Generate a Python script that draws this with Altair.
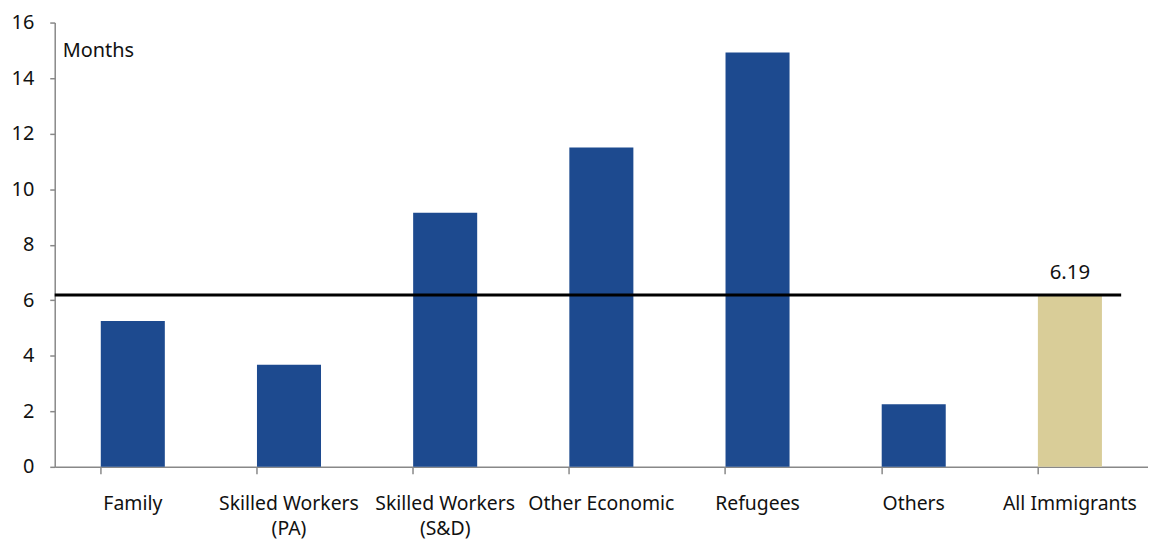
import altair as alt
import pandas as pd

categories = ["Family", "Skilled Workers (PA)", "Skilled Workers (S&D)", "Other Economic",
              "Refugees", "Others", "All Immigrants"]
values = [5.25, 3.68, 9.15, 11.5, 14.92, 2.25, 6.19]
groups = ["cat", "cat", "cat", "cat", "cat", "cat", "all"]
average_value = 6.19
average_label = "6.19"
y_ticks = [0, 2, 4, 6, 8, 10, 12, 14, 16]

df = pd.DataFrame({"category": categories, "value": values, "group": groups})
avg_df = pd.DataFrame({"avg": [average_value], "label": [average_label],
                       "category": ["All Immigrants"]})

FONT = "Noto Sans"

x_enc = alt.X("category:N", sort=categories, title=None,
              scale=alt.Scale(paddingInner=0.59, paddingOuter=0.295),
              axis=alt.Axis(labelAngle=0, labelFontSize=19.5, labelFont=FONT, labelColor="#111",
                            labelPadding=21, tickSize=7, tickColor="#888", domainColor="#888",
                            domainWidth=1.5, tickWidth=1.5, bandPosition=0, labelLineHeight=25,
                            labelBaseline="top",
                            labelExpr="indexof(datum.value,'(')>0 ? [slice(datum.value,0,indexof(datum.value,'(')-1), slice(datum.value,indexof(datum.value,'('))] : datum.value"))

y_scale = alt.Scale(domain=[0, 16], nice=False)

bars = alt.Chart(df).mark_bar().encode(
    x=x_enc,
    y=alt.Y("value:Q", scale=y_scale, title=None,
            axis=alt.Axis(values=y_ticks, grid=False, labelFontSize=20, labelFont=FONT,
                          labelColor="#111", labelPadding=16, tickSize=5, tickColor="#888",
                          domainColor="#888", domainWidth=1.5, tickWidth=1.5)),
    color=alt.Color("group:N", scale=alt.Scale(domain=["cat", "all"],
                                               range=["#1D4A8F", "#D9CD98"]), legend=None),
)

rule = alt.Chart(avg_df).mark_rule(color="black", strokeWidth=3).encode(
    y=alt.Y("avg:Q", scale=y_scale),
    x=alt.value(0), x2=alt.value(1073),
)

avg_text = alt.Chart(avg_df).mark_text(font=FONT, fontSize=20.5, color="#111", dy=-22).encode(
    x=alt.X("category:N", sort=categories),
    y=alt.Y("avg:Q", scale=y_scale),
    text="label:N",
)

months = alt.Chart(avg_df).mark_text(font=FONT, fontSize=20, color="#111", align="left",
                                     baseline="middle", text="Months").encode(
    x=alt.value(8), y=alt.value(29),
)

chart = alt.layer(bars, rule, avg_text, months).properties(
    width=1100, height=447,
    autosize=alt.AutoSizeParams(type="none"),
    padding={"left": 47, "top": 13, "right": 0, "bottom": 78},
).configure_view(stroke=None)

chart.save("out.html", embed_options={"renderer": "svg", "actions": False})
